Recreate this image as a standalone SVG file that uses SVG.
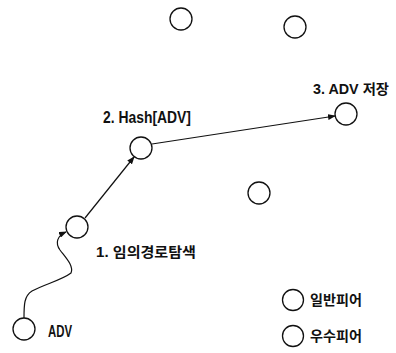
<svg xmlns="http://www.w3.org/2000/svg" width="396" height="353" viewBox="0 0 396 353">
<style>
.node{fill:#fff;stroke:#111;stroke-width:1.3}
.edge{fill:none;stroke:#111;stroke-width:1.2}
.lbl{font-family:"Liberation Sans","Noto Sans CJK KR",sans-serif;font-weight:bold;font-size:14px;fill:#111}
.big{font-size:16px}
</style>
<defs>
<marker id="arr" markerWidth="8" markerHeight="6" refX="7" refY="3" orient="auto" markerUnits="userSpaceOnUse">
<path d="M0,0 L8,3 L0,6 Z" fill="#111"/>
</marker>
</defs>
<rect width="396" height="353" fill="#fff"/>
<g id="connectors">
<path class="edge" d="M24,318 C24,305 24,296 32,291 C45,284 62,280 71,273 C74,266 66,258 60,250 C55,243 57,236 66,232" marker-end="url(#arr)"/>
<line class="edge" x1="85" y1="218" x2="134" y2="157" marker-end="url(#arr)"/>
<line class="edge" x1="152" y1="144" x2="335" y2="116" marker-end="url(#arr)"/>
</g>
<g id="peer-top-left"><circle class="node" cx="181" cy="19" r="11"/></g>
<g id="peer-top-right"><circle class="node" cx="295" cy="27" r="11"/></g>
<g id="peer-store"><circle class="node" cx="346" cy="114" r="11"/><text class="lbl" x="313" y="94" textLength="76" lengthAdjust="spacingAndGlyphs" font-size="15">3. ADV 저장</text></g>
<g id="peer-hash"><circle class="node" cx="141" cy="148" r="11"/><text class="lbl big" x="103" y="123" textLength="88" lengthAdjust="spacingAndGlyphs">2. Hash[ADV]</text></g>
<g id="peer-mid"><circle class="node" cx="259" cy="193" r="11"/></g>
<g id="peer-1"><circle class="node" cx="77" cy="227" r="11"/><text class="lbl" x="96" y="257" textLength="100" lengthAdjust="spacingAndGlyphs">1. 임의경로탐색</text></g>
<g id="peer-adv"><circle class="node" cx="24" cy="329" r="11"/><text class="lbl big" x="48" y="337" textLength="24" lengthAdjust="spacingAndGlyphs">ADV</text></g>
<g id="legend-normal"><circle class="node" cx="293" cy="300" r="10.5"/><text class="lbl" x="310" y="305" textLength="52" lengthAdjust="spacingAndGlyphs">일반피어</text></g>
<g id="legend-super"><circle class="node" cx="293" cy="336" r="10.5"/><text class="lbl" x="310" y="341" textLength="52" lengthAdjust="spacingAndGlyphs">우수피어</text></g>
</svg>
